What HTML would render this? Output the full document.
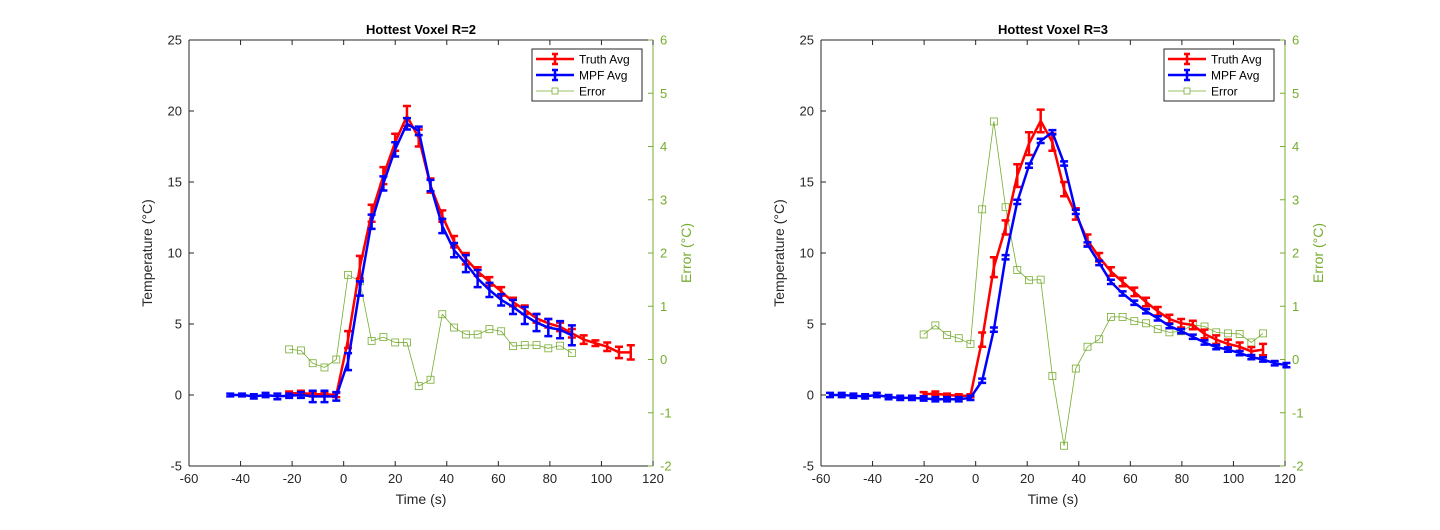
<!DOCTYPE html>
<html><head><meta charset="utf-8"><style>
body{margin:0;background:#fff}
svg text{font-family:"Liberation Sans",sans-serif}
</style></head><body>
<svg id="chart" width="1440" height="525" viewBox="0 0 1440 525"></svg>
<script>
// Left plot (R=2): t = -44 + 4.57k
const leftBlueStart = 0;
const leftBlue = [0,0,-0.1,0,-0.1,-0.05,0,-0.1,-0.1,-0.1,2.35,7.5,12.2,14.9,17.3,19.1,18.6,14.75,11.9,10.2,9.25,8.2,7.4,6.7,6.2,5.6,5.1,4.75,4.6,4.2];
const leftBlueErr = [0.1,0.1,0.15,0.15,0.2,0.15,0.2,0.4,0.4,0.3,0.6,0.5,0.5,0.5,0.5,0.4,0.3,0.4,0.5,0.5,0.6,0.6,0.5,0.4,0.5,0.6,0.6,0.6,0.6,0.7];
const leftRedStart = 5;
const leftRed = [0.1,0.15,0.05,0.05,0,3.9,9.0,12.8,15.45,17.8,19.65,18.1,14.75,12.6,10.8,9.6,8.7,8.0,7.3,6.55,6.0,5.4,5.05,4.8,4.35,3.9,3.65,3.4,3.0,3.0];
const leftRedErr = [0.15,0.15,0.15,0.15,0.15,0.6,0.8,0.6,0.6,0.6,0.7,0.6,0.5,0.4,0.4,0.4,0.3,0.3,0.3,0.3,0.3,0.3,0.3,0.3,0.3,0.3,0.2,0.3,0.4,0.5];
const leftErrStart = 5;
const leftErrVals = [0.19,0.17,-0.07,-0.15,0.0,1.59,1.47,0.35,0.42,0.32,0.32,-0.5,-0.38,0.85,0.6,0.47,0.47,0.57,0.53,0.25,0.27,0.27,0.21,0.26,0.12];
// Right plot (R=3): t = -56.5 + 4.54k
const rightBlueStart = 0;
const rightBlue = [0,0,-0.05,-0.1,0,-0.15,-0.2,-0.2,-0.25,-0.3,-0.3,-0.3,-0.2,1.0,4.6,9.7,13.6,16.15,17.9,18.5,16.3,12.9,10.6,9.3,7.97,7.15,6.5,5.9,5.4,4.86,4.5,4.1,3.7,3.37,3.2,2.95,2.67,2.5,2.24,2.1];
const rightRedStart = 8;
const rightRed = [0.05,0.1,0,-0.05,-0.05,3.9,9.0,11.8,15.45,17.7,19.3,17.8,14.5,12.75,10.9,9.7,8.7,7.96,7.26,6.55,5.9,5.35,5.05,4.93,4.3,3.9,3.6,3.4,3.07,3.2];
const rightRedErr = [0.15,0.15,0.1,0.1,0.1,0.5,0.7,0.5,0.8,0.8,0.8,0.6,0.5,0.4,0.4,0.3,0.3,0.3,0.3,0.3,0.3,0.3,0.3,0.3,0.3,0.3,0.3,0.3,0.3,0.4];
const rightErrStart = 8;
const rightErrVals = [0.47,0.64,0.46,0.4,0.29,2.82,4.47,2.86,1.68,1.49,1.5,-0.31,-1.62,-0.17,0.24,0.38,0.8,0.8,0.72,0.68,0.57,0.51,0.53,0.65,0.62,0.51,0.49,0.48,0.32,0.49];
const xTicks = [-60,-40,-20,0,20,40,60,80,100,120];
const yTicks = [-5,0,5,10,15,20,25];
const y2Ticks = [-2,-1,0,1,2,3,4,5,6];

const NS='http://www.w3.org/2000/svg';
const svg=document.getElementById('chart');
function mk(tag,attrs,parent){const e=document.createElementNS(NS,tag);for(const k in attrs)e.setAttribute(k,attrs[k]);(parent||svg).appendChild(e);return e;}
const GREEN='#77ac30';

function plot(opt){
  const L=opt.x0,R=opt.x0+464,T=40,B=466;
  const xs=t=>L+(t+60)/180*(R-L);
  const ys=v=>T+(25-v)/30*(B-T);
  const y2=v=>T+(6-v)/8*(B-T);
  const g=mk('g',{});
  
  
  mk('rect',{x:L,y:T,width:R-L,height:B-T,fill:'#fff',stroke:'none'},g);
  // axes
  mk('path',{d:`M${L} ${T}H${R}M${L} ${B}H${R}M${L} ${T}V${B}`,stroke:'#262626','stroke-width':1,fill:'none'},g);
  mk('path',{d:`M${R} ${T}V${B}`,stroke:GREEN,'stroke-width':1},g);
  xTicks.forEach(t=>{const x=xs(t);
    mk('path',{d:`M${x} ${B}v-5M${x} ${T}v5`,stroke:'#262626'},g);
    const tx=mk('text',{x:x,y:B+17,'text-anchor':'middle','font-size':13,fill:'#262626'},g);tx.textContent=t;
    });
  yTicks.forEach(v=>{const y=ys(v);
    mk('path',{d:`M${L} ${y}h5`,stroke:'#262626'},g);
    const tx=mk('text',{x:L-7,y:y+4.5,'text-anchor':'end','font-size':13,fill:'#262626'},g);tx.textContent=v;
    });
  y2Ticks.forEach(v=>{const y=y2(v);
    mk('path',{d:`M${R} ${y}h-5`,stroke:GREEN},g);
    const tx=mk('text',{x:R+7,y:y+4.5,'font-size':13,fill:GREEN},g);tx.textContent=v;
    });
  const ttl=mk('text',{x:(L+R)/2,y:34,'text-anchor':'middle','font-size':13,'font-weight':'bold',fill:'#000'},g);ttl.textContent=opt.title;
  
  const xl=mk('text',{x:(L+R)/2,y:504,'text-anchor':'middle','font-size':14,fill:'#262626'},g);xl.textContent='Time (s)';
  
  const yl=mk('text',{transform:`translate(${L-37},${(T+B)/2}) rotate(-90)`,'text-anchor':'middle','font-size':14,fill:'#262626'},g);yl.textContent='Temperature (°C)';
  
  const y2l=mk('text',{transform:`translate(${R+38},${(T+B)/2}) rotate(-90)`,'text-anchor':'middle','font-size':14,fill:GREEN},g);y2l.textContent='Error (°C)';
  
  const tk=k=>opt.t0+opt.dt*k;
  // error series
  const ep=opt.err.map((v,i)=>[xs(tk(opt.errStart+i)),y2(v)]);
  const el=mk('polyline',{points:ep.map(p=>p.join(',')).join(' '),fill:'none',stroke:GREEN,'stroke-width':0.8},g);
  
  ep.forEach(p=>{const r=mk('rect',{x:p[0]-3.5,y:p[1]-3.5,width:7,height:7,fill:'none',stroke:GREEN,'stroke-width':0.8},g);
    });
  function series(vals,errs,start,color,name){
    const pts=vals.map((v,i)=>[xs(tk(start+i)),ys(v)]);
    const pl=mk('polyline',{points:pts.map(p=>p.join(',')).join(' '),fill:'none',stroke:color,'stroke-width':2.5},g);
    
    vals.forEach((v,i)=>{const e=errs?errs[i]:0.15;const x=pts[i][0];const a=ys(v+e),b=ys(v-e);
      const p=mk('path',{d:`M${x} ${a}V${b}M${x-4} ${a}h8M${x-4} ${b}h8`,stroke:color,'stroke-width':2.5,fill:'none'},g);
      });
  }
  series(opt.red,opt.redErr,opt.redStart,'#ff0000','truth-avg');
  series(opt.blue,opt.blueErr,opt.blueStart,'#0000ff','mpf-avg');
  // legend
  const lx=R-121,ly=49;
  const lg=mk('g',{},g);
  mk('rect',{x:lx,y:ly,width:110,height:52,fill:'#fff',stroke:'#262626','stroke-width':1},lg);
  [['Truth Avg','#ff0000'],['MPF Avg','#0000ff'],['Error',GREEN]].forEach((e,i)=>{
    const yy=ly+10+i*16;const it=mk('g',{},lg);
    
    if(i<2){mk('path',{d:`M${lx+4} ${yy}h38M${lx+23} ${yy-5}v10M${lx+20} ${yy-5}h6M${lx+20} ${yy+5}h6`,stroke:e[1],'stroke-width':2.5,fill:'none'},it);}
    else{mk('path',{d:`M${lx+4} ${yy}h38`,stroke:e[1],'stroke-width':0.8},it);mk('rect',{x:lx+20,y:yy-3,width:6,height:6,fill:'#fff',stroke:e[1],'stroke-width':0.8},it);}
    const t=mk('text',{x:lx+47,y:yy+4.5,'font-size':12,fill:'#000'},it);t.textContent=e[0];});
}
plot({name:'plot-r2',x0:189,title:'Hottest Voxel R=2',t0:-44,dt:4.57,blue:leftBlue,blueErr:leftBlueErr,blueStart:leftBlueStart,red:leftRed,redErr:leftRedErr,redStart:leftRedStart,err:leftErrVals,errStart:leftErrStart});
plot({name:'plot-r3',x0:821,title:'Hottest Voxel R=3',t0:-56.5,dt:4.54,blue:rightBlue,blueErr:null,blueStart:rightBlueStart,red:rightRed,redErr:rightRedErr,redStart:rightRedStart,err:rightErrVals,errStart:rightErrStart});
</script>
</body></html>
